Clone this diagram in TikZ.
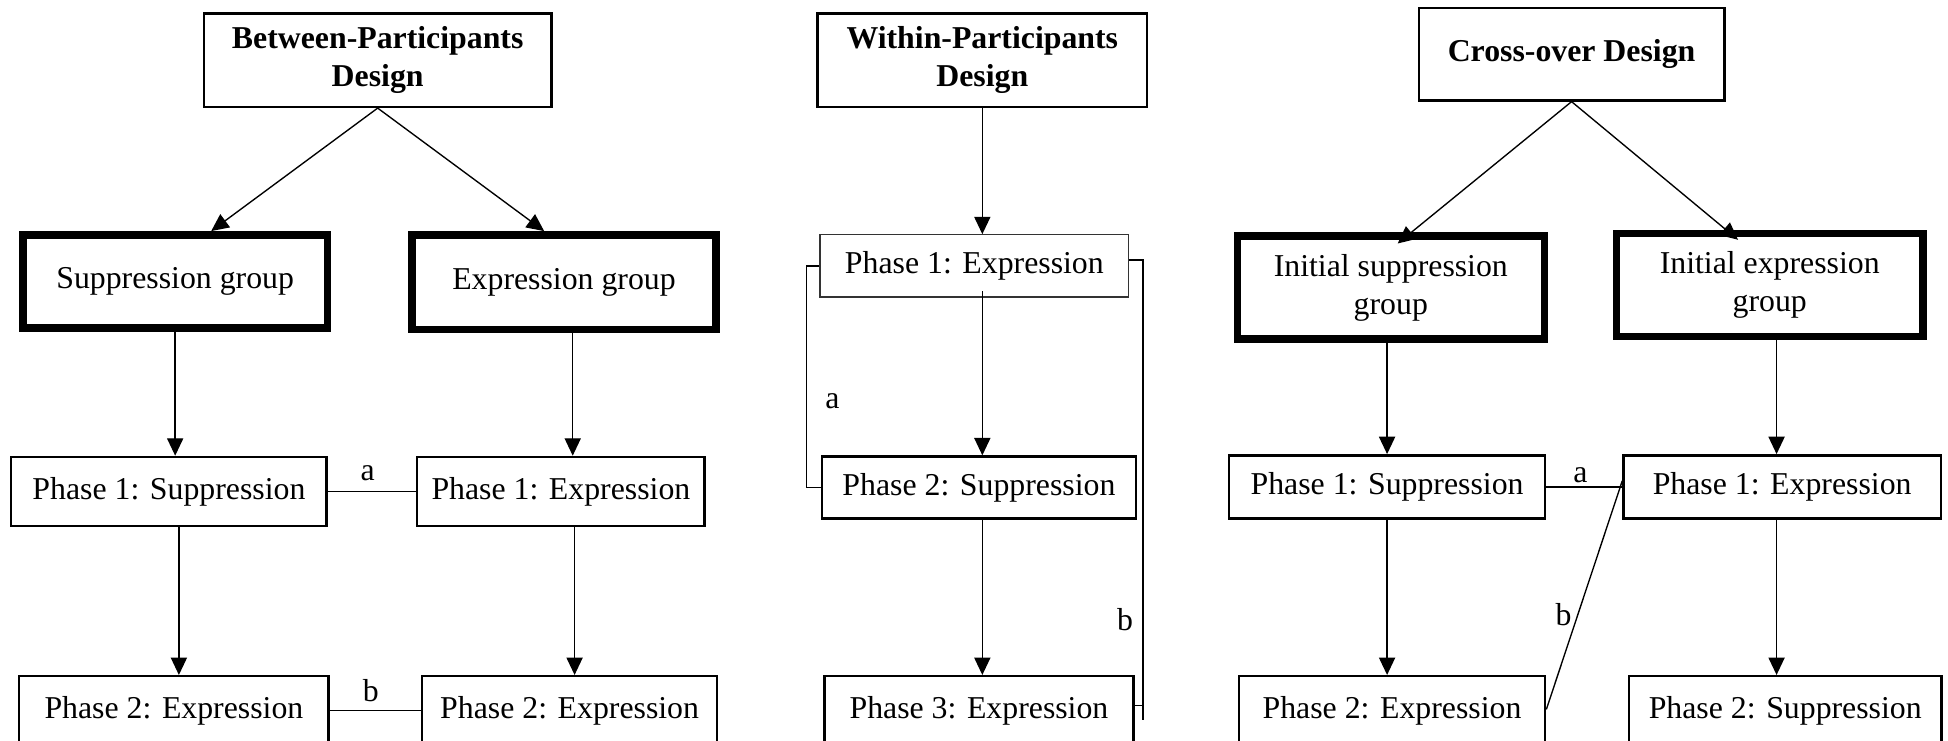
\documentclass[tikz,border=0pt]{standalone}
\usepackage{fontspec}
\setmainfont{Liberation Serif}
\usetikzlibrary{arrows.meta}

\tikzset{
  box/.style={draw, line width=1pt, inner sep=0pt, align=center, font=\fontsize{12.8}{15.4}\selectfont},
  groupbox/.style={box, line width=3pt},
  thinbox/.style={box, line width=0.5pt, draw=black!80},
  headbox/.style={box, font=\fontsize{12.8}{15.4}\selectfont\bfseries},
  arr/.style={-{Triangle[width=6.5pt,length=7pt]}, line width=0.55pt},
  link/.style={line width=0.55pt},
  lbl/.style={inner sep=0pt, font=\fontsize{12.8}{15.4}\selectfont}
}

\begin{document}
\begin{tikzpicture}[x=0.5pt,y=0.5pt,yscale=-1,xscale=1]
\useasboundingbox (0,0) rectangle (1568,596);
\clip (0,0) rectangle (1568,596);

%%% Between-Participants Design
% Text Node
\node[headbox, minimum width=140pt, minimum height=37.5pt] (btw) at (304,48.5) {Between-Participants\\Design};
%Shape: Rectangle
\node[groupbox, minimum width=122.5pt, minimum height=37.5pt] (supg) at (141,226.5) {Suppression group};
\node[groupbox, minimum width=122.5pt, minimum height=38pt] (expg) at (454,227) {Expression group};
%Shape: Rectangle
\node[box, minimum width=127pt, minimum height=27.7pt] (bs1) at (136,395.5) {Phase 1: Suppression};
\node[box, minimum width=115.7pt, minimum height=27.7pt] (be1) at (451.5,395.5) {Phase 1: Expression};
\node[box, minimum width=124.5pt, minimum height=27.7pt] (bs2) at (140,572) {Phase 2: Expression};
\node[box, minimum width=118.7pt, minimum height=27.7pt] (be2) at (458.5,572) {Phase 2: Expression};

\draw[arr] (btw.south) -- ([xshift=14.5pt]supg.north);
\draw[arr] (btw.south) -- ([xshift=-8pt]expg.north);
\draw[arr] (supg.south) -- (supg.south |- bs1.north);
\draw[arr] ([xshift=3.5pt]expg.south) -- ([xshift=3.5pt]expg.south |- be1.north);
\draw[arr] ([xshift=2pt]bs2.north |- bs1.south) -- ([xshift=2pt]bs2.north);
\draw[arr] ([xshift=2pt]be2.north |- be1.south) -- ([xshift=2pt]be2.north);
\draw[link] (bs1.east) -- node[lbl, above=3.9pt, pos=0.45] (ba) {a} (be1.west);
\draw[link] (bs2.east) -- node[lbl, above=3.1pt, pos=0.45] (bb) {b} (be2.west);

%%% Within-Participants Design
% Text Node
\node[headbox, minimum width=132.5pt, minimum height=37.5pt] (wtn) at (790.7,48.5) {Within-Participants\\Design};
%Shape: Rectangle
\node[thinbox, minimum width=124.2pt, minimum height=25pt] (wp1) at (784.3,214) {Phase 1: Expression};
\node[box, minimum width=126.2pt, minimum height=25pt] (wp2) at (788,392.5) {Phase 2: Suppression};
\node[box, minimum width=124.2pt, minimum height=27.7pt] (wp3) at (788,572) {Phase 3: Expression};

\draw[arr] (wtn.south) -- (wtn.south |- wp1.north);
\draw[arr] ([yshift=-2.5pt]wtn.south |- wp1.south) -- (wtn.south |- wp2.north);
\draw[arr] (wtn.south |- wp2.south) -- (wtn.south |- wp3.north);
% brackets
\draw[link] (wp1.west) -- ++(-10.5,0) |- (wp2.west);
\node[lbl] (wa) at (670,322.6) {a};
\draw[link] ([yshift=-2.35pt]wp1.east) -- ++(11,0) coordinate (bt) -- ++(0,370.3);
\draw[link] ([yshift=-2pt]wp3.east) -- ([yshift=-2pt]wp3.east -| bt);
\node[lbl] (wb) at (905.6,499) {b};

%%% Cross-over Design
% Text Node
\node[headbox, minimum width=123pt, minimum height=37.2pt] (crs) at (1265,43.6) {Cross-over Design};
%Shape: Rectangle
\node[groupbox, minimum width=123.5pt, minimum height=41.5pt] (isg) at (1119.5,231.5) {Initial suppression\\group};
\node[groupbox, minimum width=123.5pt, minimum height=41.5pt] (ieg) at (1424.5,229.5) {Initial expression\\group};
%Shape: Rectangle
\node[box, minimum width=127.2pt, minimum height=25.5pt] (cs1) at (1116.5,392) {Phase 1: Suppression};
\node[box, minimum width=127.7pt, minimum height=25.5pt] (ce1) at (1434.5,392) {Phase 1: Expression};
\node[box, minimum width=123.2pt, minimum height=27.7pt] (cs2) at (1120.5,572) {Phase 2: Expression};
\node[box, minimum width=125.7pt, minimum height=27.7pt] (ce2) at (1437,572) {Phase 2: Suppression};

\draw[arr] (crs.south) -- ([xshift=2.75pt,yshift=4.5pt]isg.north);
\draw[arr] (crs.south) -- ([xshift=-12.75pt,yshift=4pt]ieg.north);
\draw[arr] (cs1.north |- isg.south) -- (cs1.north);
\draw[arr] ([xshift=2.75pt]ieg.south) -- ([xshift=2.75pt]ieg.south |- ce1.north);
\draw[arr] (cs1.south) -- (cs1.south |- cs2.north);
\draw[arr] ([xshift=-2.25pt]ce1.south) -- ([xshift=-2.25pt]ce1.south |- ce2.north);
\draw[link] (cs1.east) -- node[lbl, above=1.6pt, pos=0.45] (ca) {a} (ce1.west);
\draw[link] ([yshift=-2.5pt]ce1.west) -- node[lbl, left=2.3pt, pos=0.585] (cb) {b} ([yshift=-0.5pt]cs2.east);

\end{tikzpicture}
\end{document}
